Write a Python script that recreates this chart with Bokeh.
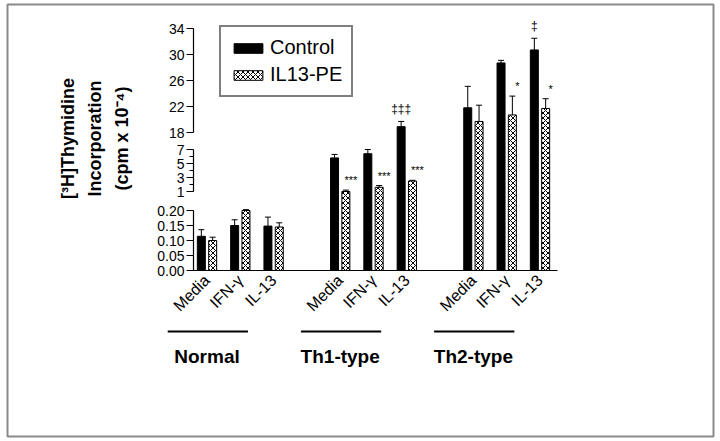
import numpy as np
from bokeh.plotting import figure
from bokeh.models import (ColumnDataSource, FixedTicker, Whisker, TeeHead, Legend, LegendItem,
                          LinearAxis, Range1d)
from bokeh.core.properties import value
from bokeh.embed import file_html
from bokeh.resources import INLINE

# ---------------- data ----------------
groups = ["Normal", "Th1-type", "Th2-type"]
treatments = ["Media", "IFN-\u03b3", "IL-13"]
slots = [0, 1, 2, 4, 5, 6, 8, 9, 10]          # category slot index (gap between groups)
group_first_slot = [0, 4, 8]

control_mean = [0.114, 0.150, 0.148, 5.8, 6.4, 18.9, 21.8, 28.7, 30.7]
control_sem = [0.022, 0.019, 0.030, 0.5, 0.6, 0.8, 3.3, 0.4, 1.8]
il13pe_mean = [0.100, 0.200, 0.145, 1.0, 1.6, 2.5, 19.7, 20.7, 21.7]
il13pe_sem = [0.011, 0.036, 0.014, 0.2, 0.25, 0.1, 2.5, 2.9, 1.5]
control_sig = ["", "", "", "", "", "\u2021\u2021\u2021", "", "", "\u2021"]
il13pe_sig = ["", "", "", "***", "***", "***", "", "*", "*"]

ytick_vals = [0.0, 0.05, 0.10, 0.15, 0.20, 1, 3, 5, 7, 18, 22, 26, 30, 34]
ytick_labels = ["0.00", "0.05", "0.10", "0.15", "0.20", "1", "3", "5", "7",
                "18", "22", "26", "30", "34"]
yminor_vals = [2, 4, 6]
axis_segments = [(0.0, 0.2), (1, 7), (18, 34)]

# broken-axis scale: value -> display coordinate (piecewise linear)
BREAK_V = [0.0, 0.2, 1, 7, 18, 34]
BREAK_D = [0.0, 60.0, 79.0, 121.0, 138.0, 242.0]


def to_display(v):
    return np.interp(np.asarray(v, dtype=float), BREAK_V, BREAK_D)


FONT = "Liberation Sans"
OFF = 0.17
BW = 0.24

W, H = 720, 441
SLOT_PX = 33.3
X0_PX = 206.5          # canvas x of slot 0
BASE_PX = 270          # canvas y of value 0
FL, FR, FT, FB = 7, 7, 4, 5   # frame insets (frame outline = picture border)
X_AXIS_START = (193 - X0_PX) / SLOT_PX
X_AXIS_END = (557 - X0_PX) / SLOT_PX

x = np.array(slots, dtype=float)
cm = np.array(control_mean); cs = np.array(control_sem)
pm = np.array(il13pe_mean); ps = np.array(il13pe_sem)

src_c = ColumnDataSource(dict(x=x - OFF, top=to_display(cm), up=to_display(cm + cs),
                              sig=control_sig))
src_p = ColumnDataSource(dict(x=x + OFF, top=to_display(pm), up=to_display(pm + ps),
                              sig=il13pe_sig))

p = figure(width=W, height=H,
           x_range=Range1d((FL - X0_PX) / SLOT_PX, (W - FR - X0_PX) / SLOT_PX),
           y_range=Range1d(BASE_PX - (H - FB), BASE_PX - FT),
           output_backend="svg", toolbar_location=None,
           min_border_left=FL, min_border_right=FR, min_border_top=FT, min_border_bottom=FB)
p.grid.visible = False
p.outline_line_color = "#8a8a8a"
p.outline_line_width = 2
p.background_fill_color = "white"
p.border_fill_color = "white"

r_c = p.vbar(x="x", top="top", bottom=0, width=BW, source=src_c,
             fill_color="black", line_color="black", line_width=1)
r_p = p.vbar(x="x", top="top", bottom=0, width=BW, source=src_p,
             fill_color="white", line_color="black", line_width=1,
             hatch_pattern="diagonal_cross", hatch_color="black", hatch_scale=5, hatch_weight=1)

for src in (src_c, src_p):
    w = Whisker(source=src, base="x", lower="top", upper="up", line_color="black", line_width=1,
                upper_head=TeeHead(size=6, line_color="black", line_width=1), lower_head=None)
    p.add_layout(w)

p.text(x="x", y="up", text="sig", source=src_c, text_font=value(FONT), text_font_size="12px",
       text_align="center", text_baseline="bottom", y_offset=-5, text_color="black")
p.text(x="x", y="up", text="sig", source=src_p, text_font=value(FONT), text_font_size="11px",
       text_align="center", text_baseline="bottom", x_offset=5, y_offset=-4, text_color="black")

# broken y-axis line segments and x-axis line
seg_lo = [float(to_display(a)) for a, b in axis_segments]
seg_hi = [float(to_display(b)) for a, b in axis_segments]
p.segment(x0=[X_AXIS_START] * 3, x1=[X_AXIS_START] * 3, y0=seg_lo, y1=seg_hi,
          line_color="black", line_width=1.2)
p.segment(x0=[X_AXIS_START], x1=[X_AXIS_END], y0=[0], y1=[0], line_color="black", line_width=1.2)

# group underlines
GY = BASE_PX - 331
p.segment(x0=[s - 1.18 for s in group_first_slot], x1=[s + 1.23 for s in group_first_slot],
          y0=[GY] * 3, y1=[GY] * 3, line_color="black", line_width=2)

yax = p.yaxis[0]
ytick_pos = [float(d) for d in to_display(ytick_vals)]
yax.fixed_location = X_AXIS_START
yax.bounds = (0, 264)
yax.ticker = FixedTicker(ticks=ytick_pos, minor_ticks=[float(d) for d in to_display(yminor_vals)])
yax.major_label_overrides = {t: l for t, l in zip(ytick_pos, ytick_labels)}
yax.axis_line_color = None
yax.major_tick_out = 7
yax.major_tick_in = 0
yax.minor_tick_out = 4
yax.minor_tick_in = 0
yax.major_tick_line_color = "black"
yax.minor_tick_line_color = "black"
yax.major_label_text_font = FONT
yax.major_label_text_font_size = "14px"
yax.major_label_text_color = "black"
yax.major_label_standoff = 2
yax.axis_label = "[\u00b3H]Thymidine\nIncorporation\n(cpm x 10\u207b\u2074)"
yax.axis_label_text_font = FONT
yax.axis_label_text_font_size = "18px"
yax.axis_label_text_font_style = "bold"
yax.axis_label_text_color = "black"
yax.axis_label_text_line_height = 1.35
yax.axis_label_standoff = 22

xax = p.xaxis[0]
xax.fixed_location = 0
xax.ticker = FixedTicker(ticks=slots)
xax.major_label_overrides = {s: treatments[i % 3] for i, s in enumerate(slots)}
xax.major_label_orientation = np.pi / 4
xax.major_tick_line_color = None
xax.minor_tick_line_color = None
xax.major_tick_out = 0
xax.axis_line_color = None
xax.major_label_text_font = FONT
xax.major_label_text_font_size = "16px"
xax.major_label_text_color = "black"
xax.major_label_standoff = 7

gax = LinearAxis(ticker=FixedTicker(ticks=group_first_slot),
                 major_label_overrides={s: g for s, g in zip(group_first_slot, groups)})
gax.fixed_location = 0
gax.axis_line_color = None
gax.major_tick_line_color = None
gax.minor_tick_line_color = None
gax.major_tick_out = 0
gax.major_label_text_font = FONT
gax.major_label_text_font_size = "19px"
gax.major_label_text_font_style = "bold"
gax.major_label_text_color = "black"
gax.major_label_standoff = 75
p.add_layout(gax, "below")

legend = Legend(items=[LegendItem(label="Control", renderers=[r_c]),
                       LegendItem(label="IL13-PE", renderers=[r_p])],
                location=(212, 339), border_line_color="black", border_line_width=2,
                padding=9, spacing=4, glyph_width=36, glyph_height=12, label_standoff=4,
                label_height=22, margin=0, label_text_font=FONT, label_text_font_size="20px",
                label_text_color="black",
                background_fill_color="white", background_fill_alpha=1)
p.add_layout(legend)

open("out.html", "w").write(file_html(p, INLINE))
